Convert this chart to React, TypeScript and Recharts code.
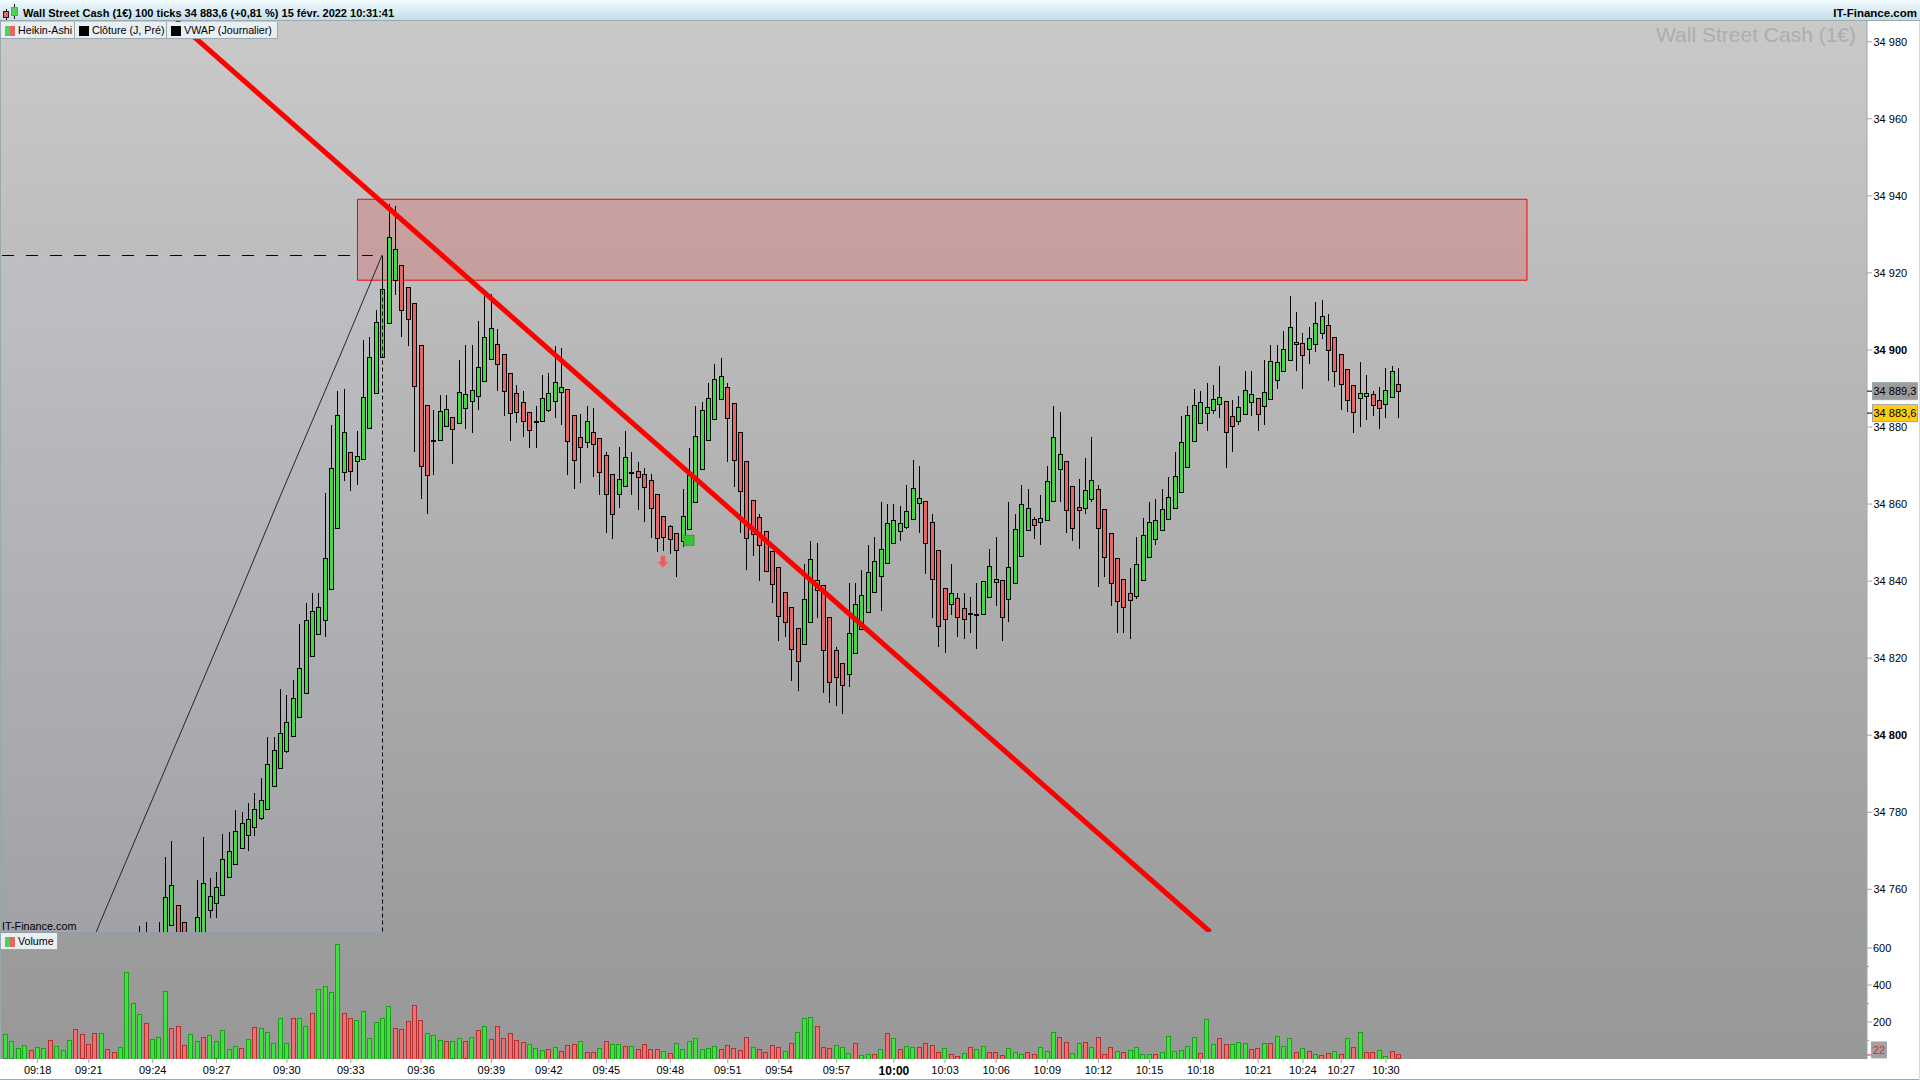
import { Bar, ComposedChart, Line, ReferenceArea, ReferenceDot, ReferenceLine, XAxis, YAxis } from "recharts";

const FONT = '"Liberation Sans", Arial, sans-serif';
const AXIS_COLOR = "#9aa8b0";

// candles start at bar 21, the earlier ones sit below the visible price range
const FIRST_CANDLE = 21;

const opens = [
  34738, 34738, 34744, 34738, 34745, 34750.7, 34755.9, 34751.4, 34740, 34745, 34745,
  34754.6, 34756.4, 34758.5, 34763.1, 34766.5, 34770.6, 34774.0, 34776.1, 34778.4,
  34780.8, 34786.7, 34791.4, 34795.8, 34799.7, 34804.6, 34810.9, 34820.5, 34826.2, 34829.8, 34837.9, 34853.7,
  34868.2, 34873.3, 34871.1, 34871.6, 34879.6, 34888.7, 34898.1, 34906.9, 34918.1, 34921.9,
  34916.2, 34912.0, 34901.1, 34885.5, 34876.4, 34876.5, 34880.2, 34882.4, 34880.9, 34884.8,
  34886.7, 34887.9, 34891.8, 34897.6, 34901.4, 34898.9, 34893.8, 34888.6, 34886.3, 34883.7,
  34881.5, 34881.5, 34884.3, 34886.7, 34889.0, 34889.7, 34882.9, 34877.2, 34876.0, 34878.5,
  34877.0, 34872.6, 34867.7, 34862.5, 34864.6, 34868.3, 34868.5, 34867.7, 34866.1, 34862.5,
  34856.7, 34854.2, 34852.4, 34850.3, 34853.4, 34860.4, 34869.0, 34876.5, 34882.0, 34887.2,
  34890.3, 34886.2, 34878.6, 34871.0, 34860.9, 34856.5, 34852.9, 34847.7, 34843.5, 34837.0,
  34833.2, 34827.7, 34823.6, 34829.3, 34837.6, 34838.8, 34830.6, 34822.0, 34818.6, 34815.8,
  34821.3, 34827.5, 34831.9, 34837.1, 34841.3, 34844.6, 34849.8, 34852.9, 34854.0, 34856.1,
  34860.2, 34860.6, 34855.2, 34847.9, 34838.1, 34834.0, 34835.5, 34832.9, 34831.6, 34831.4,
  34831.4, 34835.8, 34839.7, 34840.1, 34835.3, 34839.4, 34846.5, 34853.2, 34856.0, 34855.3,
  34855.8, 34860.7, 34869.0, 34871.0, 34864.5, 34859.1, 34858.9, 34861.2, 34863.8, 34858.6,
  34852.4, 34845.8, 34840.5, 34836.8, 34836.1, 34840.2, 34846.2, 34850.9, 34853.2, 34856.0,
  34858.9, 34863.0, 34869.5, 34876.3, 34880.9, 34883.5, 34884.3, 34885.9, 34886.7, 34882.8,
  34881.5, 34883.3, 34886.4, 34887.4, 34885.4, 34887.2, 34892.1, 34894.5, 34897.3, 34901.4,
  34901.7, 34900.2, 34901.4, 34904.3, 34906.4, 34903.3, 34898.9, 34895.0, 34890.8, 34887.4,
  34888.0, 34888.5, 34886.9, 34885.9, 34887.7, 34891.1,
];

const closes = [
  34745, 34744, 34740, 34745, 34757.9, 34761.0, 34745, 34745, 34745, 34752.7, 34761.6,
  34758.2, 34760.5, 34767.8, 34769.9, 34775.1, 34777.1, 34778.2, 34780.8, 34783.1,
  34792.5, 34796.1, 34800.5, 34803.4, 34809.6, 34817.4, 34829.8, 34832.2, 34833.2, 34845.9, 34869.3, 34883.0,
  34878.5, 34868.5, 34872.3, 34887.6, 34898.0, 34907.1, 34915.7, 34929.2, 34926.0, 34910.3,
  34907.9, 34890.5, 34869.8, 34867.4, 34876.4, 34884.0, 34884.5, 34879.4, 34888.9, 34888.4,
  34889.4, 34895.4, 34903.3, 34905.6, 34896.3, 34889.2, 34883.5, 34883.8, 34881.5, 34879.1,
  34881.5, 34887.3, 34888.6, 34891.6, 34890.2, 34876.3, 34871.3, 34874.7, 34881.4, 34875.5,
  34868.2, 34862.5, 34857.3, 34866.4, 34872.1, 34868.3, 34866.9, 34864.3, 34858.9, 34851.1,
  34851.4, 34850.8, 34848.0, 34856.7, 34867.4, 34877.5, 34884.2, 34887.3, 34892.4, 34893.1,
  34882.3, 34871.4, 34863.3, 34851.1, 34852.2, 34849.3, 34842.6, 34839.2, 34830.9, 34829.3,
  34822.3, 34819.2, 34835.3, 34845.6, 34840.1, 34822.1, 34813.8, 34815.1, 34813.0, 34826.4,
  34833.9, 34836.2, 34842.2, 34845.1, 34848.2, 34854.9, 34855.7, 34854.9, 34858.0, 34864.0,
  34861.4, 34849.8, 34840.5, 34828.3, 34830.1, 34836.8, 34830.6, 34830.1, 34831.6, 34831.4,
  34839.9, 34843.8, 34840.4, 34830.6, 34843.5, 34853.4, 34859.9, 34858.8, 34854.5, 34856.2,
  34865.8, 34877.3, 34872.8, 34858.4, 34853.7, 34858.4, 34863.5, 34866.1, 34853.7, 34846.2,
  34839.4, 34834.8, 34833.2, 34835.0, 34844.4, 34851.9, 34855.3, 34855.8, 34858.6, 34861.8,
  34867.2, 34876.0, 34883.0, 34885.6, 34886.4, 34885.1, 34887.2, 34887.7, 34878.6, 34880.2,
  34885.1, 34889.4, 34888.5, 34883.3, 34889.0, 34897.0, 34896.8, 34900.2, 34905.9, 34902.0,
  34898.6, 34902.9, 34906.9, 34908.7, 34899.9, 34894.5, 34891.1, 34886.9, 34883.8, 34888.7,
  34888.7, 34885.6, 34884.8, 34889.5, 34894.5, 34889.3,
];

const highs = [
  34750.7, 34751.7, 34747, 34751.7, 34768.6, 34772.7, 34755.9, 34751.4, 34747, 34762.6, 34773.8,
  34763.1, 34764.7, 34774.5, 34775.1, 34780.8, 34780.3, 34782.6, 34785.2, 34789.1,
  34799.7, 34799.7, 34812.2, 34810.6, 34814.5, 34829.0, 34834.5, 34837.1, 34837.1, 34863.1, 34880.7, 34889.5,
  34890.0, 34873.3, 34879.2, 34902.6, 34903.6, 34910.5, 34924.2, 34938.0, 34937.6, 34921.9,
  34916.2, 34912.0, 34901.1, 34885.5, 34884.6, 34888.5, 34888.5, 34882.4, 34897.6, 34901.4,
  34901.4, 34907.7, 34914.7, 34914.7, 34905.6, 34898.9, 34893.8, 34891.1, 34889.5, 34883.7,
  34885.6, 34893.7, 34894.2, 34901.2, 34900.7, 34889.7, 34882.9, 34883.5, 34885.6, 34885.1,
  34877.0, 34873.7, 34867.7, 34875.0, 34879.1, 34873.7, 34871.1, 34869.5, 34868.0, 34862.5,
  34856.7, 34854.7, 34852.4, 34864.1, 34874.7, 34885.6, 34886.7, 34891.6, 34896.5, 34898.1,
  34891.6, 34886.2, 34878.6, 34871.0, 34860.9, 34857.6, 34852.9, 34847.7, 34843.5, 34837.0,
  34833.2, 34827.7, 34844.6, 34850.6, 34850.1, 34838.8, 34830.6, 34823.1, 34818.6, 34839.7,
  34839.7, 34843.1, 34849.6, 34851.6, 34860.7, 34860.2, 34860.2, 34859.7, 34865.1, 34871.6,
  34870.1, 34860.6, 34857.6, 34847.9, 34838.1, 34844.6, 34837.1, 34837.1, 34836.1, 34839.7,
  34839.9, 34848.5, 34851.6, 34840.1, 34860.7, 34857.6, 34865.1, 34864.1, 34856.7, 34862.5,
  34870.1, 34885.6, 34884.1, 34871.0, 34864.5, 34866.7, 34872.1, 34877.6, 34865.1, 34858.6,
  34852.4, 34845.8, 34840.5, 34843.6, 34851.6, 34856.6, 34860.7, 34861.5, 34864.1, 34867.2,
  34873.7, 34883.1, 34885.6, 34890.0, 34889.5, 34891.6, 34891.1, 34896.0, 34886.7, 34887.2,
  34888.2, 34894.7, 34894.7, 34887.4, 34897.6, 34901.4, 34901.4, 34905.1, 34914.2, 34910.0,
  34904.6, 34906.1, 34912.6, 34913.1, 34909.5, 34903.3, 34898.9, 34895.0, 34890.8, 34897.0,
  34893.7, 34889.5, 34890.5, 34895.5, 34896.0, 34895.5,
];

const lows = [
  34735, 34735, 34735, 34735, 34740, 34750.7, 34738, 34738, 34735, 34742, 34745,
  34752.7, 34752.7, 34758.5, 34763.1, 34766.5, 34770.6, 34770.0, 34774.1, 34778.1,
  34780.8, 34786.7, 34791.4, 34795.5, 34799.7, 34804.6, 34810.9, 34820.5, 34826.2, 34825.6, 34837.9, 34853.7,
  34866.1, 34863.5, 34865.0, 34871.6, 34879.6, 34888.7, 34898.1, 34906.9, 34914.5, 34903.4,
  34901.1, 34873.6, 34861.4, 34857.6, 34867.6, 34876.5, 34880.2, 34870.5, 34880.9, 34879.6,
  34878.5, 34884.5, 34891.8, 34897.6, 34889.4, 34882.9, 34876.4, 34881.2, 34877.5, 34874.6,
  34874.6, 34881.5, 34884.0, 34882.4, 34880.6, 34867.6, 34864.0, 34865.5, 34874.6, 34867.1,
  34862.4, 34852.6, 34851.0, 34859.1, 34864.6, 34862.4, 34858.5, 34855.4, 34851.3, 34847.6,
  34847.9, 34847.1, 34841.1, 34848.9, 34853.4, 34860.4, 34869.0, 34876.5, 34882.0, 34887.2,
  34871.0, 34864.5, 34852.6, 34843.0, 34846.6, 34840.1, 34842.6, 34834.4, 34824.6, 34825.6,
  34814.2, 34811.6, 34823.6, 34829.3, 34830.5, 34811.1, 34808.5, 34807.7, 34805.6, 34812.6,
  34821.3, 34827.5, 34831.9, 34837.1, 34832.5, 34844.6, 34849.8, 34850.5, 34853.6, 34856.1,
  34852.6, 34842.0, 34830.5, 34823.0, 34821.5, 34831.4, 34825.6, 34825.1, 34826.6, 34822.5,
  34831.4, 34835.8, 34833.7, 34824.6, 34829.5, 34839.4, 34846.5, 34853.2, 34851.0, 34849.5,
  34855.8, 34860.7, 34860.6, 34852.6, 34850.5, 34848.4, 34857.6, 34860.6, 34838.6, 34841.2,
  34833.6, 34826.6, 34826.6, 34825.1, 34835.5, 34840.2, 34846.2, 34849.5, 34853.2, 34856.0,
  34858.9, 34863.0, 34869.5, 34876.3, 34880.9, 34879.0, 34883.4, 34882.4, 34869.4, 34873.6,
  34880.6, 34883.3, 34882.9, 34879.0, 34880.6, 34887.2, 34890.0, 34894.5, 34897.3, 34894.6,
  34890.0, 34896.4, 34899.5, 34902.9, 34892.0, 34890.5, 34884.5, 34884.0, 34878.5, 34880.1,
  34881.9, 34882.9, 34879.6, 34882.4, 34887.7, 34882.4,
];

const volumes = [
  130, 92, 58, 74, 47, 63, 58, 101, 68, 47,
  101, 160, 130, 79, 140, 140, 52, 36, 63, 468,
  301, 241, 193, 106, 117, 366, 166, 177, 74, 133,
  96, 117, 128, 92, 155, 52, 68, 58, 106, 171,
  166, 144, 85, 220, 85, 220, 220, 177, 247, 377,
  393, 360, 620, 247, 220, 209, 258, 112, 198, 220,
  285, 166, 160, 204, 290, 209, 140, 128, 101, 96,
  92, 112, 92, 117, 155, 176, 106, 176, 112, 139,
  101, 90, 79, 58, 47, 52, 63, 41, 74, 79,
  95, 36, 36, 58, 95, 79, 79, 68, 68, 52,
  79, 52, 52, 41, 30, 84, 52, 95, 112, 52,
  58, 68, 52, 74, 58, 47, 117, 63, 52, 36,
  74, 63, 41, 84, 144, 220, 225, 176, 63, 58,
  74, 63, 30, 84, 20, 25, 25, 52, 139, 112,
  52, 68, 63, 63, 84, 74, 36, 58, 25, 14,
  30, 63, 52, 68, 36, 36, 20, 58, 36, 25,
  36, 25, 63, 41, 144, 117, 90, 30, 84, 90,
  63, 117, 25, 63, 41, 36, 47, 63, 25, 25,
  25, 36, 122, 41, 47, 68, 117, 30, 214, 79,
  112, 79, 79, 90, 84, 52, 58, 84, 84, 122,
  68, 112, 36, 58, 41, 25, 20, 30, 41, 25,
  112, 63, 144, 36, 36, 47, 14, 41, 22,
];

const volumeSides =
  "GGGGRGGRGG" + "GRRRRGRRGG" + "GGRGGGRRRG" + "GRGGGGGRGR" + "GGGGGRGGRG" +
  "GGGRRGGGGG" + "GRRRRRGGGR" + "GGRGRGRRRR" + "RRGGGRGRRR" + "GRRGRGGRGR" +
  "RRRGRGGGGG" + "GGRRRRRGRR" + "RRGRGGGRRR" + "GGGRGGRGRG" + "RGGRRRRGRR" +
  "GRGGRRRGGG" + "RRGGGRRGGR" + "GRRRGRGGGG" + "RGGGGGGRGG" + "RRGGGRRGRG" +
  "GGRGRGRRGR" + "GRGRRGGRR";

const timeTickBars = [5, 13, 23, 33, 44, 54, 65, 76, 85, 94, 104, 113, 121, 130, 139, 147, 155, 163, 171, 179, 187, 196, 203, 209, 216];
const timeTickLabels = [
  "09:18", "09:21", "09:24", "09:27", "09:30", "09:33", "09:36", "09:39", "09:42", "09:45", "09:48", "09:51", "09:54",
  "09:57", "10:00", "10:03", "10:06", "10:09", "10:12", "10:15", "10:18", "10:21", "10:24", "10:27", "10:30",
];

const priceTicks = [34760, 34780, 34800, 34820, 34840, 34860, 34880, 34900, 34920, 34940, 34960, 34980];
const boldPrices = [34800, 34900];
const PRE_CLOSE = 34889.3;
const LAST_PRICE = 34883.6;
const volumeTicks = [100, 200, 300, 400, 500, 600];
const LAST_VOLUME = 22;

const vwapBars = [13.2, 14.76, 36.2, 42.9, 52.3, 58.9];
const vwapPrices = [34745, 34751.35, 34835.1, 34861.8, 34898.4, 34924.6];

// visible ranges of the two panes
const BAR_DOMAIN: [number, number] = [-0.579, 291.28];
const PRICE_DOMAIN: [number, number] = [34748.93, 34985.37];
const VOLUME_DOMAIN: [number, number] = [0, 686.5];

const candleRows = opens.map((open, i) => ({
  bar: i + FIRST_CANDLE,
  open,
  close: closes[i],
  high: highs[i],
  low: lows[i],
  range: [lows[i], highs[i]],
}));
const vwapRows = vwapBars.map((bar, i) => ({ bar, price: vwapPrices[i] }));
const volumeRows = volumes.map((volume, i) => ({ bar: i, volume, up: volumeSides[i] === "G" }));

function formatPrice(value: number) {
  const [whole, decimals] = String(value).split(".");
  const text = whole.slice(0, 2) + " " + whole.slice(2);
  return decimals ? text + "," + decimals : text;
}

function snap(value: number) {
  return Math.round(value - 0.5) + 0.5;
}

function Candle(props: any) {
  const { x, width, y, height, payload } = props;
  const cx = snap(x + width / 2);
  const unit = height / (payload.high - payload.low);
  const toY = (v: number) => snap(y + (payload.high - v) * unit);
  const top = toY(Math.max(payload.open, payload.close));
  const bottom = toY(Math.min(payload.open, payload.close));
  const fill = payload.close >= payload.open ? "#44d844" : "#e66565";
  return (
    <g shapeRendering="crispEdges">
      <line x1={cx} x2={cx} y1={toY(payload.high)} y2={toY(payload.low)} stroke="#000" />
      <rect x={cx - 2} y={top} width={4} height={Math.max(bottom - top, 1)} fill={fill} stroke="#000" />
    </g>
  );
}

function VolumeBar(props: any) {
  const { x, width, y, height, payload } = props;
  const cx = snap(x + width / 2);
  return (
    <rect
      x={cx - 2}
      y={snap(y)}
      width={4}
      height={Math.max(height, 1)}
      fill={payload.up ? "#3fe03f" : "#ee7070"}
      stroke={payload.up ? "#1c9f1c" : "#b23030"}
      shapeRendering="crispEdges"
    />
  );
}

function PriceTick({ x, y, payload }: any) {
  const value = payload.value;
  const boxed = value === PRE_CLOSE || value === LAST_PRICE;
  return (
    <g fontFamily={FONT} fontSize={11}>
      <line x1={x} x2={x + 5} y1={y} y2={y} stroke={boxed ? "#000" : AXIS_COLOR} />
      {boxed && (
        <rect
          x={x + 5.5}
          y={y - 8.5}
          width={45}
          height={17}
          fill={value === LAST_PRICE ? "#ffcc11" : "#9c9c9c"}
          stroke={AXIS_COLOR}
        />
      )}
      <text x={x + 6.5} y={y} dy="0.36em" fill="#000" fontWeight={boldPrices.includes(value) ? "bold" : "normal"}>
        {formatPrice(value)}
      </text>
    </g>
  );
}

function VolumeTick({ x, y, payload }: any) {
  const value = payload.value;
  if (value === LAST_VOLUME) {
    return (
      <g fontFamily={FONT} fontSize={11}>
        <line x1={x} x2={x + 5} y1={y} y2={y} stroke="#d03030" />
        <rect x={x + 4.5} y={y - 13} width={15} height={16} fill="#a2a2a2" stroke={AXIS_COLOR} />
        <text x={x + 6} y={y - 5} dy="0.36em" fill="#d03030">
          {value}
        </text>
      </g>
    );
  }
  const labelled = value % 200 === 0;
  return (
    <g fontFamily={FONT} fontSize={11}>
      <line x1={x} x2={x + (labelled ? 5 : 2)} y1={y} y2={y} stroke={AXIS_COLOR} />
      {labelled && (
        <text x={x + 6} y={y} dy="0.36em" fill="#000">
          {value}
        </text>
      )}
    </g>
  );
}

function TimeTick({ x, y, payload }: any) {
  const label = timeTickLabels[timeTickBars.indexOf(payload.value)];
  return (
    <g fontFamily={FONT}>
      <line x1={x} x2={x} y1={y} y2={y + 4} stroke={AXIS_COLOR} />
      <text
        x={x}
        y={y + 11.5}
        dy="0.36em"
        textAnchor="middle"
        fill="#000"
        fontSize={label === "10:00" ? 12 : 11}
        fontWeight={label === "10:00" ? "bold" : "normal"}
      >
        {label}
      </text>
    </g>
  );
}

function EntryMarker({ cx, cy }: any) {
  return <rect x={cx - 5} y={cy - 5} width={10} height={10} fill="#35c435" stroke="#2aa82a" />;
}

function ArrowMarker({ cx, cy }: any) {
  const points = [
    [cx - 2.5, cy - 6],
    [cx + 2.5, cy - 6],
    [cx + 2.5, cy],
    [cx + 5.5, cy],
    [cx, cy + 6],
    [cx - 5.5, cy],
    [cx - 2.5, cy],
  ];
  return <polygon points={points.map((p) => p.join(",")).join(" ")} fill="#ee5a5a" stroke="#d88" />;
}

function Tab({ left, width, top = 22, swatch, children }: any) {
  return (
    <div
      style={{
        position: "absolute",
        left,
        top,
        width,
        height: 16,
        background: "#e8eef2",
        borderRight: "1px solid " + AXIS_COLOR,
        borderBottom: "1px solid " + AXIS_COLOR,
        fontSize: 10.7,
        lineHeight: "16px",
        whiteSpace: "nowrap",
      }}
    >
      <span style={{ position: "absolute", left: 4, top: 4, width: 10, height: 10, background: swatch }} />
      <span style={{ position: "absolute", left: 17 }}>{children}</span>
    </div>
  );
}

const twoTone = "linear-gradient(90deg, #4fd24f 50%, #e76666 50%)";

export default function App() {
  return (
    <div
      style={{
        position: "absolute",
        left: 0,
        top: 0,
        width: 1920,
        height: 1080,
        background: "#fff",
        overflow: "hidden",
        fontFamily: FONT,
        color: "#000",
      }}
    >
      <div
        style={{
          position: "absolute",
          left: 1,
          top: 21,
          width: 1866,
          height: 1038,
          background: "linear-gradient(#c9c9c9 0%, #9c9c9c 88%, #989898 100%)",
        }}
      />

      <ComposedChart
        width={1920}
        height={911}
        data={candleRows}
        margin={{ top: 0, right: 0, bottom: 0, left: 2 }}
        style={{ position: "absolute", left: 0, top: 21 }}
      >
        <XAxis dataKey="bar" type="number" domain={BAR_DOMAIN} allowDataOverflow hide />
        <YAxis
          orientation="right"
          width={53}
          domain={PRICE_DOMAIN}
          allowDataOverflow
          ticks={[...priceTicks, PRE_CLOSE, LAST_PRICE]}
          interval={0}
          tick={<PriceTick />}
          tickLine={false}
          tickSize={0}
          tickMargin={0}
          stroke={AXIS_COLOR}
        />
        <ReferenceArea y1={34924.5} y2={PRICE_DOMAIN[0]} x2={58.97} fill="#cfdcff" fillOpacity={0.1} stroke="none" ifOverflow="hidden" />
        <ReferenceArea
          x1={55.05}
          x2={238.07}
          y1={34939.1}
          y2={34918.1}
          fill="#ff0000"
          fillOpacity={0.16}
          stroke="#ff0000"
          strokeOpacity={1}
          ifOverflow="hidden"
        />
        <ReferenceLine
          segment={[
            { x: BAR_DOMAIN[0], y: 34924.5 },
            { x: 57.45, y: 34924.5 },
          ]}
          stroke="#000"
          strokeDasharray="12 12"
          ifOverflow="hidden"
        />
        <ReferenceLine
          segment={[
            { x: 58.97, y: 34924.5 },
            { x: 58.97, y: PRICE_DOMAIN[0] },
          ]}
          stroke="#000"
          strokeDasharray="4 3"
          ifOverflow="hidden"
        />
        <Line data={vwapRows} dataKey="price" dot={false} stroke="#262626" strokeWidth={1} isAnimationActive={false} />
        <Bar dataKey="range" barSize={4} shape={<Candle />} isAnimationActive={false} />
        <ReferenceDot x={102.86} y={34845} shape={<ArrowMarker />} ifOverflow="visible" />
        <ReferenceDot x={106.93} y={34850.6} shape={<EntryMarker />} ifOverflow="visible" />
        <ReferenceLine
          segment={[
            { x: 26.68, y: PRICE_DOMAIN[1] },
            { x: 188.5, y: PRICE_DOMAIN[0] },
          ]}
          stroke="#ff0000"
          strokeWidth={5}
          ifOverflow="hidden"
        />
      </ComposedChart>

      <ComposedChart
        width={1920}
        height={147}
        data={volumeRows}
        margin={{ top: 0, right: 0, bottom: 0, left: 2 }}
        style={{ position: "absolute", left: 0, top: 932 }}
      >
        <XAxis
          dataKey="bar"
          type="number"
          domain={BAR_DOMAIN}
          allowDataOverflow
          height={20}
          ticks={timeTickBars}
          interval={0}
          tick={<TimeTick />}
          tickLine={false}
          tickSize={0}
          tickMargin={0}
          axisLine={false}
        />
        <YAxis
          orientation="right"
          width={53}
          domain={VOLUME_DOMAIN}
          allowDataOverflow
          ticks={[...volumeTicks, LAST_VOLUME]}
          interval={0}
          tick={<VolumeTick />}
          tickLine={false}
          tickSize={0}
          tickMargin={0}
          stroke={AXIS_COLOR}
        />
        <Bar dataKey="volume" barSize={4} shape={<VolumeBar />} isAnimationActive={false} />
      </ComposedChart>

      {/* title bar */}
      <div
        style={{
          position: "absolute",
          left: 0,
          top: 0,
          width: 1920,
          height: 21,
          background: "linear-gradient(#f2fbfe, #c5dde9)",
          borderBottom: "1px solid " + AXIS_COLOR,
          boxSizing: "border-box",
          fontSize: 11,
          fontWeight: "bold",
          lineHeight: "26px",
        }}
      >
        <svg width={20} height={21} style={{ position: "absolute", left: 2, top: 0 }} shapeRendering="crispEdges">
          <line x1={4.5} x2={4.5} y1={9} y2={20} stroke="#111" />
          <rect x={1.5} y={11.5} width={5} height={6} fill="#e76666" stroke="#222" />
          <line x1={12.5} x2={12.5} y1={4} y2={19} stroke="#111" />
          <rect x={9.5} y={7.5} width={6} height={8} fill="#4fd24f" stroke="#1c6" />
        </svg>
        <span style={{ position: "absolute", left: 23 }}>
          Wall Street Cash (1€) 100 ticks 34 883,6 (+0,81 %) 15 févr. 2022 10:31:41
        </span>
        <span style={{ position: "absolute", right: 3, fontSize: 11.5 }}>IT-Finance.com</span>
      </div>

      <Tab left={1} width={73} swatch={twoTone}>
        Heikin-Ashi
      </Tab>
      <Tab left={75} width={91} swatch="#000">
        Clôture (J, Pré)
      </Tab>
      <Tab left={167} width={110} swatch="#000">
        VWAP (Journalier)
      </Tab>
      <Tab left={1} width={56} top={933} swatch={twoTone}>
        Volume
      </Tab>

      <div
        style={{
          position: "absolute",
          right: 64,
          top: 23,
          fontSize: 21,
          color: "#adadad",
          whiteSpace: "nowrap",
        }}
      >
        Wall Street Cash (1€)
      </div>
      <div style={{ position: "absolute", left: 2, top: 919, fontSize: 10.8, lineHeight: "14px" }}>IT-Finance.com</div>

      {/* pane separator and window frame */}
      <div style={{ position: "absolute", left: 0, top: 932, width: 1867, height: 1, background: "#8f9ca4" }} />
      <div style={{ position: "absolute", left: 0, top: 21, width: 1, height: 1038, background: AXIS_COLOR }} />
      <div style={{ position: "absolute", left: 0, top: 1079, width: 1920, height: 1, background: AXIS_COLOR }} />
      <div style={{ position: "absolute", left: 1919, top: 21, width: 1, height: 1059, background: "#d4dce0" }} />
    </div>
  );
}
